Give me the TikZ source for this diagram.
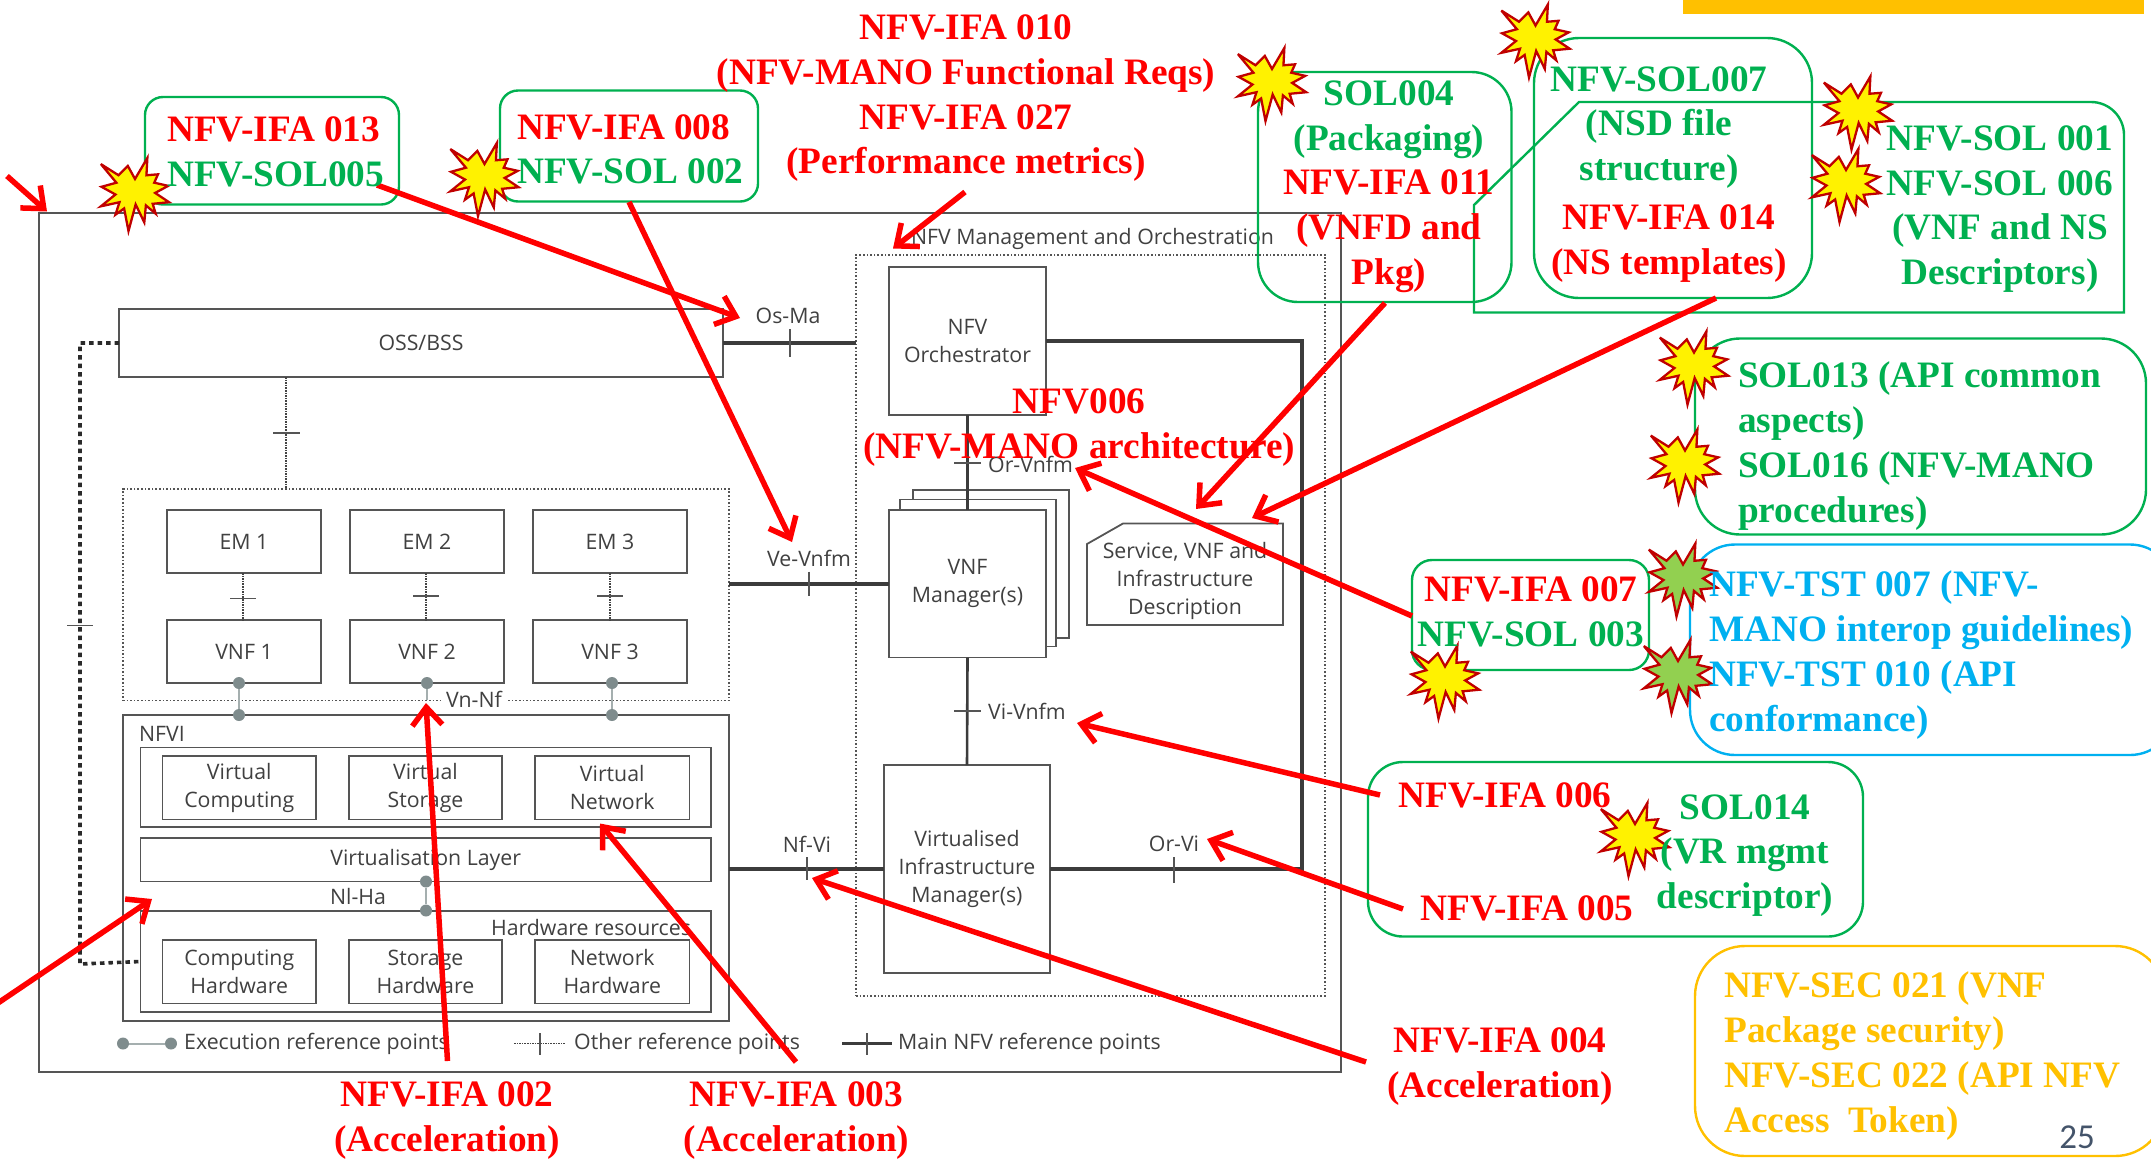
\documentclass[tikz,border=0pt]{standalone}
\usepackage{fontspec}
\setmainfont{Liberation Serif}
\setsansfont{Open Sans}
\usetikzlibrary{arrows.meta,calc}
\definecolor{gline}{HTML}{555555}
\definecolor{gtext}{HTML}{404040}
\definecolor{dotg}{HTML}{7F8C8D}
\definecolor{sgreen}{HTML}{00B050}
\definecolor{sblue}{HTML}{00B0F0}
\definecolor{sgold}{HTML}{FFC000}
\definecolor{sred}{HTML}{FF0000}
\definecolor{bred}{HTML}{C00000}
\definecolor{lgreen}{HTML}{92D050}
\definecolor{pnum}{HTML}{44546A}
\newcommand\Sx{\strut}
\newcommand\Rd[1]{\textcolor{sred}{#1}}
\newcommand\Gn[1]{\textcolor{sgreen}{#1}}
% corner-positioned box: name, x1, y1, x2, y2, style, text
\newcommand\Cbox[7]{\node[#6,minimum width={(#4-#2)*1pt},minimum height={(#5-#3)*1pt}] (#1) at ({(#2+#4)/2},{(#3+#5)/2}) {#7};}
\tikzset{
 pics/burst/.style={code={
  \draw[draw=bred,line width=2.3pt,miter limit=6,fill=#1,scale=0.93] (-36.7,-32.7)--(-17.7,-20.7)--(-7.7,-30.7)--(0,-16.7)--(13.3,-39.3)--(12.3,-20.7)--(24.7,-21.7)--(20.7,-12.7)--(35.7,-9.3)--(21.7,-1.7)--(36.7,8.3)--(19,10)--(22.3,20.7)--(11.7,11.7)--(10,30)--(.7,10.7)--(-7,39.3)--(-11.7,15)--(-21,21.7)--(-16.7,8.3)--(-36.7,12.7)--(-21,0)--(-36,-8.3)--(-20,-12.7)--cycle;
 }},
 bx/.style={draw=gline,line width=1.8pt,inner sep=0pt,outer sep=0pt,align=center,text=gtext,font=\sffamily\fontsize{21.3}{28}\selectfont},
 dbx/.style={draw=gline,line width=1.6pt,dotted,inner sep=0pt,outer sep=0pt},
 lbl/.style={inner sep=0pt,text=gtext,font=\sffamily\fontsize{21.3}{28}\selectfont},
 gbox/.style={draw=sgreen,line width=2.4pt,rounded corners=#1,inner sep=0pt,outer sep=0pt},
 cbox/.style 2 args={draw=#1,line width=2.4pt,rounded corners=#2,inner sep=0pt,outer sep=0pt},
 ser/.style={inner sep=0pt,font=\bfseries\fontsize{37.3}{44.7}\selectfont},
 lc/.style={ser,align=center},
 ll/.style={ser,align=left,anchor=west},
 mainl/.style={draw=gline!70!black,line width=3.8pt},
 soll/.style={draw=gline!70!black,line width=2.6pt},
 othl/.style={draw=gline!80!black,line width=1.6pt,densely dotted},
 tick/.style={draw=gline,line width=1.6pt},
 thdot/.style={draw=gline!50!black,line width=3.6pt,dash pattern=on 4.5pt off 4pt},
 exl/.style={draw=dotg!70,line width=2pt},
 edot/.style={circle,fill=dotg,draw=none,minimum size=12pt,inner sep=0pt},
 rarr/.style={draw=sred,line width=5.5pt,-{Straight Barb[length=18pt,width=30pt,line width=5.5pt]}},
}
\begin{document}
\begin{tikzpicture}[x=1pt,y=-1pt]
\useasboundingbox (0,0) rectangle (2151,1160);
% top bar
\fill[sgold] (1683,0) rectangle (2144,14);
% outer frame
\Cbox{frame}{39}{213}{1341}{1072}{draw=gline,line width=2.6pt}{}
% left part
\Cbox{oss}{119}{309}{723}{377}{bx}{OSS/BSS}
\Cbox{vgroup}{123}{489}{729}{700.5}{dbx}{}
\Cbox{em1}{167}{510}{321}{573}{bx}{EM 1}
\Cbox{em2}{350}{510}{504}{573}{bx}{EM 2}
\Cbox{em3}{533}{510}{687}{573}{bx}{EM 3}
\Cbox{vnf1}{167}{620}{321}{683}{bx}{VNF 1}
\Cbox{vnf2}{350}{620}{504}{683}{bx}{VNF 2}
\Cbox{vnf3}{533}{620}{687}{683}{bx}{VNF 3}
\Cbox{nfvi}{123}{715}{729}{1021}{bx}{}
\node[lbl] (nfvil) at (162,734) {NFVI};
\Cbox{vgrp}{140.5}{747.5}{711}{827}{bx}{}
\Cbox{vc}{162.5}{756}{316}{819.5}{bx}{Virtual\\Computing}
\Cbox{vs}{349}{756}{502}{819.5}{bx}{Virtual\\Storage}
\Cbox{vn}{535}{756}{689.5}{819.5}{bx}{Virtual\\Network}
\Cbox{vl}{140.5}{838}{711}{881.5}{bx}{Virtualisation Layer}
\Cbox{hgrp}{140.5}{911}{711}{1012}{bx}{}
\node[lbl] (hwl) at (591,927) {Hardware resources};
\Cbox{ch}{162.5}{940}{316}{1003.5}{bx}{Computing\\Hardware}
\Cbox{sh}{349}{940}{502}{1003.5}{bx}{Storage\\Hardware}
\Cbox{nh}{535}{940}{689.5}{1003.5}{bx}{Network\\Hardware}
% MANO
\Cbox{mano}{856}{255}{1325}{996}{dbx}{}
\node[lbl] (manol) at (1092.5,238.5) {NFV Management and Orchestration};
\Cbox{orch}{889}{267}{1046}{415}{bx}{NFV\\Orchestrator}
\Cbox{vm3}{913}{490}{1069}{638}{bx,fill=white}{}
\Cbox{vm2}{900}{499.5}{1056}{646.5}{bx,fill=white}{}
\Cbox{vnfm}{889}{510}{1046}{657.5}{bx,fill=white}{VNF\\Manager(s)}
\Cbox{vim}{884}{765}{1050}{973}{bx}{Virtualised\\Infrastructure\\Manager(s)}
\draw[draw=gline,line width=1.8pt] (1087,544) -- (1123,523.5) -- (1283,523.5) -- (1283,625) -- (1087,625) -- cycle;
\node[lbl,align=center] (svc) at (1185,580.5) {Service, VNF and\\Infrastructure\\Description};
% connectors
\draw[thdot] (oss.west) -- (80,343) -- (80,964) -- (hgrp.west);
\coordinate (lefttick) at (80,625.5);
\draw[tick] ($(lefttick)+(-13,0)$) -- ($(lefttick)+(13,0)$);
\draw[othl] (oss.south -| 286,0) -- (286,489);
\draw[tick] (273,433) -- (300,433);
\foreach \a/\x/\ty in {1/243/598.5,2/426/596,3/610/596}{
 \draw[othl] (\x,573) -- (\x,620);
 \draw[tick] (\x-13,\ty) -- (\x+13,\ty);
}
\draw[mainl] (oss.east) -- (oss.east -| mano.west);
\draw[tick] (790,329) -- (790,357);
\node[lbl] (osma) at (788,316) {Os-Ma};
\draw[mainl] (vnfm.west -| vgroup.east) -- (vnfm.west);
\draw[tick] (809,571.5) -- (809,595.5);
\node[lbl] (vev) at (809,558) {Ve-Vnfm};
\draw[mainl] (vim.west -| nfvi.east) -- (vim.west);
\draw[tick] (807,857) -- (807,880);
\node[lbl] (nfv) at (807,844.5) {Nf-Vi};
\coordinate (corner) at (1302,341);
\draw[mainl] (vim.east) -| (corner) -- (orch.east);
\draw[tick] (1174,857) -- (1174,882.5);
\node[lbl] (orvi) at (1174,844) {Or-Vi};
\draw[soll] (orch.south) -- (vnfm.north);
\draw[tick,line width=2pt] (954,462.5) -- (981,462.5);
\node[lbl,anchor=west] (orv) at (988,464) {Or-Vnfm};
\draw[soll] (vnfm.south) -- (vim.north);
\draw[tick,line width=2pt] (954,711) -- (981,711);
\node[lbl,anchor=west] (viv) at (988,711) {Vi-Vnfm};
% execution ref points
\node[edot] (e1a) at (239,683) {}; \node[edot] (e1b) at (239,715) {};
\node[edot] (e2a) at (427,683) {};
\node[edot] (e3a) at (612,683) {}; \node[edot] (e3b) at (612,715) {};
\draw[exl] (e1a) -- (e1b);
\draw[exl] (e3a) -- (e3b);
\draw[exl] (e2a) -- (427,700);
\node[lbl,fill=white,inner xsep=4pt] (vnnf) at (474,699) {Vn-Nf};
\node[edot] (n1) at (426,881.5) {}; \node[edot] (n2) at (426,910.5) {};
\draw[exl] (n1) -- (n2);
\node[lbl] (niha) at (358,896) {Nl-Ha};
% legend
\node[edot] (l1) at (123,1043.5) {}; \node[edot] (l2) at (171,1043.5) {};
\draw[exl] (l1) -- (l2);
\node[lbl,anchor=west] (l3) at (184,1043.5) {Execution reference points};
\draw[othl] (514,1043.5) -- (565,1043.5);
\draw[tick] (540,1033) -- (540,1055);
\node[lbl,anchor=west] (l4) at (574,1043.5) {Other reference points};
\draw[mainl] (842,1043.5) -- (892,1043.5);
\draw[tick,line width=2pt] (867,1033) -- (867,1055);
\node[lbl,anchor=west] (l5) at (898,1043.5) {Main NFV reference points};
% callout frames
\Cbox{b13}{145}{97}{399}{204.5}{gbox=18pt}{}
\Cbox{b08}{500}{90.5}{758}{201.5}{gbox=18pt}{}
\Cbox{b04}{1258}{72}{1511.5}{302}{gbox=40pt}{}
\Cbox{b07}{1534}{38}{1812}{298}{gbox=45pt}{}
\draw[draw=sgreen,line width=2.4pt] (1474,312.5) -- (2124,312.5) -- (2124,135) arc[start angle=0,end angle=-90,radius=33] -- (1579,102) -- (1474,205) -- cycle;
\Cbox{b13a}{1695}{338.5}{2146}{534.5}{gbox=45pt}{}
\Cbox{btst}{1690}{544.5}{2175}{755}{cbox={sblue}{45pt}}{}
\Cbox{b007}{1412}{560}{1649}{670}{gbox=20pt}{}
\Cbox{b06}{1368}{762}{1863}{936.5}{gbox=35pt}{}
\Cbox{bsec}{1695}{946}{2165}{1156}{cbox={sgold}{50pt}}{}
% red arrows
\coordinate (a1s) at (7,176); \coordinate (a1e) at (47,211.5);
\coordinate (a2s) at (377,185); \coordinate (a2e) at (740,318);
\coordinate (a3s) at (629,202); \coordinate (a3e) at (792,542);
\coordinate (a4s) at (965,192); \coordinate (a4e) at (893,248.5);
\coordinate (a5s) at (1385,303); \coordinate (a5e) at (1196,509);
\coordinate (a6s) at (1716,298); \coordinate (a6e) at (1252,518);
\coordinate (a7s) at (1412,616); \coordinate (a7e) at (1075,468);
\coordinate (a8s) at (1380,795); \coordinate (a8e) at (1077,723);
\coordinate (a9s) at (1403,909); \coordinate (a9e) at (1207,839);
\coordinate (a10s) at (1366,1062); \coordinate (a10e) at (812,878);
\coordinate (a11s) at (796,1062); \coordinate (a11e) at (600,823.5);
\coordinate (a12s) at (447.5,1061); \coordinate (a12e) at (426,703);
\coordinate (a13s) at (-5,1005); \coordinate (a13e) at (152,899);
\foreach \n in {1,...,13}{\draw[rarr] (a\n s) -- (a\n e);}
% bursts
\pic (s1) at (135,194.5) {burst=yellow};
\pic (s2) at (484.5,179.5) {burst=yellow};
\pic (s3) at (1272,84.5) {burst=yellow};
\pic (s4) at (1535.5,41) {burst=yellow};
\pic (s5) at (1858,113) {burst=yellow};
\pic (s6) at (1846,185.5) {burst=yellow};
\pic (s7) at (1694,368) {burst=yellow};
\pic (s8) at (1685,466) {burst=yellow};
\pic (s9) at (1683,580) {burst=lgreen};
\pic (s10) at (1678,676.5) {burst=lgreen};
\pic (s11) at (1445,682) {burst=yellow};
\pic (s12) at (1635,839.5) {burst=yellow};
% callout texts
\node[lc,text=sred] (t10) at (966,98) {\Sx NFV-IFA 010\\\Sx (NFV-MANO Functional Reqs)\\\Sx NFV-IFA 027\\\Sx (Performance metrics)};
\node[ll] (t13) at (167,155) {\Sx\Rd{NFV-IFA 013}\\\Sx\Gn{NFV-SOL005}};
\node[ll] (t08) at (517,152.5) {\Sx\Rd{NFV-IFA 008}\\\Sx\Gn{NFV-SOL 002}};
\node[lc] (t04) at (1389,186) {\Sx\Gn{SOL004}\\\Sx\Gn{(Packaging)}\\\Sx\Rd{NFV-IFA 011}\\\Sx\Rd{(VNFD and}\\\Sx\Rd{Pkg)}};
\node[lc,text=sgreen] (t07) at (1659,127) {\Sx NFV-SOL007\\\Sx(NSD file\\\Sx structure)};
\node[lc,text=sred] (t14) at (1669,243) {\Sx NFV-IFA 014\\\Sx(NS templates)};
\node[lc,text=sgreen] (t01) at (2000,208.5) {\Sx NFV-SOL 001\\\Sx NFV-SOL 006\\\Sx(VNF and NS\\\Sx Descriptors)};
\node[ll,text=sgreen] (t13b) at (1738,446) {\Sx SOL013 (API common\\\Sx aspects)\\\Sx SOL016 (NFV-MANO\\\Sx procedures)};
\node[ll,text=sblue] (ttst) at (1709,655) {\Sx NFV-TST 007 (NFV-\\\Sx MANO interop guidelines)\\\Sx NFV-TST 010 (API\\\Sx conformance)};
\node[lc] (t007) at (1531,615) {\Sx\Rd{NFV-IFA 007}\\\Sx\Gn{NFV-SOL 003}};
\node[lc,text=sred] (t06) at (1505,799) {\Sx NFV-IFA 006};
\node[lc,text=sred] (t05) at (1527,911.5) {\Sx NFV-IFA 005};
\node[lc,text=sgreen] (t14b) at (1745,855) {\Sx SOL014\\\Sx(VR mgmt\\\Sx descriptor)};
\node[lc,text=sred] (t004) at (1500,1066) {\Sx NFV-IFA 004\\\Sx(Acceleration)};
\node[lc,text=sred] (t002) at (447,1120) {\Sx NFV-IFA 002\\\Sx(Acceleration)};
\node[lc,text=sred] (t003) at (796.5,1120) {\Sx NFV-IFA 003\\\Sx(Acceleration)};
\node[ll,text=sgold] (tsec) at (1724,1056) {\Sx NFV-SEC 021 (VNF\\\Sx Package security)\\\Sx NFV-SEC 022 (API NFV\\\Sx Access\ \ Token)};
\node[lc,text=sred] (tv6) at (1079,427) {\Sx NFV006\\\Sx(NFV-MANO architecture)};
\node[inner sep=0pt,text=pnum,font=\fontspec{Carlito}\fontsize{35}{38}\selectfont] (pg) at (2077,1137) {25};
\end{tikzpicture}
\end{document}
